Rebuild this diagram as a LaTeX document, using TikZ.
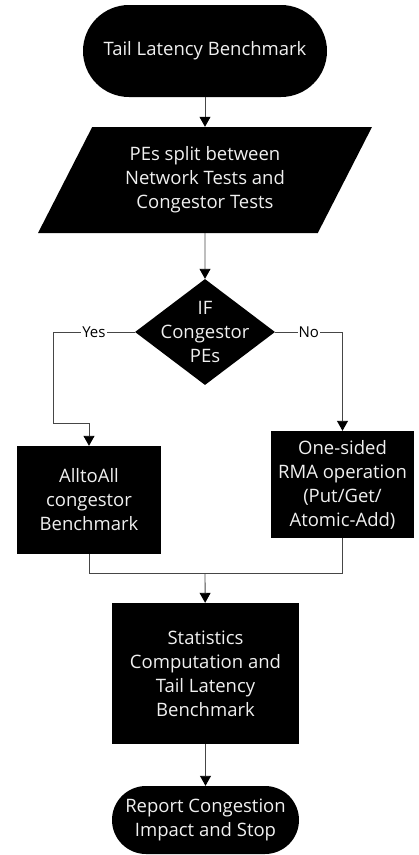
\documentclass[tikz,border=0pt]{standalone}
\usepackage{fontspec}
\setmainfont{Open Sans}
\usetikzlibrary{positioning, shapes.geometric, arrows.meta}
\definecolor{wire}{RGB}{70,70,70}
\definecolor{lighttext}{RGB}{240,240,240}
\newcommand{\flowfont}{\fontsize{18.5}{24}\selectfont}
\tikzset{
  terminal/.style={rectangle, fill=black, text=lighttext, align=center, font=\flowfont, inner sep=0pt},
  process/.style={rectangle, fill=black, text=lighttext, align=center, font=\flowfont, inner sep=0pt},
  iobox/.style={trapezium, trapezium left angle=60, trapezium right angle=120, trapezium stretches,
    fill=black, text=lighttext, align=center, font=\flowfont, inner sep=0pt},
  decision/.style={diamond, fill=black, inner sep=0pt},
  flow/.style={draw=wire, line width=0.9pt, -{Triangle[width=11pt,length=10pt,black]}},
  wireline/.style={draw=wire, line width=0.9pt},
  answer/.style={fill=white, inner sep=1pt, font=\fontsize{15}{18}\selectfont},
}
\begin{document}
\begin{tikzpicture}[x=1pt, y=-1pt]
\useasboundingbox (0,0) rectangle (419,855);

\node[terminal, minimum width=244pt, minimum height=92pt, rounded corners=46pt] (start) at (205,51) {Tail Latency Benchmark};
\node[iobox, minimum width=334pt, minimum height=106pt] (split) at (205,180) {PEs split between\\Network Tests and\\Congestor Tests};
\node[decision, minimum width=140pt, minimum height=106pt] (ifcong) at (205,332) {};
\node[text=lighttext, align=center, font=\flowfont, inner sep=0pt] (ifcongtext) at (ifcong) {IF\\Congestor\\PEs};
\node[process, minimum width=144pt, minimum height=108pt] (alltoall) at (89,500) {AlltoAll\\congestor\\Benchmark};
\node[process, minimum width=143pt, minimum height=107pt] (rma) at (342.5,484.5) {One-sided\\RMA operation\\(Put/Get/\\Atomic-Add)};
\node[process, minimum width=187pt, minimum height=141pt] (stats) at (205.5,673.5) {Statistics\\Computation and\\Tail Latency\\Benchmark};
\node[terminal, minimum width=187pt, minimum height=68pt, rounded corners=34pt] (stop) at (205.5,820) {Report Congestion\\Impact and Stop};

% bends and join point
\coordinate (yesa) at (53,332);
\coordinate (yesb) at (53,423);
\coordinate (merge) at (205,573);

\draw[flow] (start) -- (split);
\draw[flow] (split) -- (ifcong);
\draw[flow] (ifcong.west) -- node[answer] {Yes} (yesa) -- (yesb) -| (alltoall.north);
\draw[flow] (ifcong.east) -| node[answer, pos=0.25] {No} (rma.north);
\draw[wireline] (alltoall.south) |- (merge);
\draw[wireline] (rma.south) |- (merge);
\draw[flow] (merge) -- (stats);
\draw[flow] (stats) -- (stop);
\end{tikzpicture}
\end{document}
